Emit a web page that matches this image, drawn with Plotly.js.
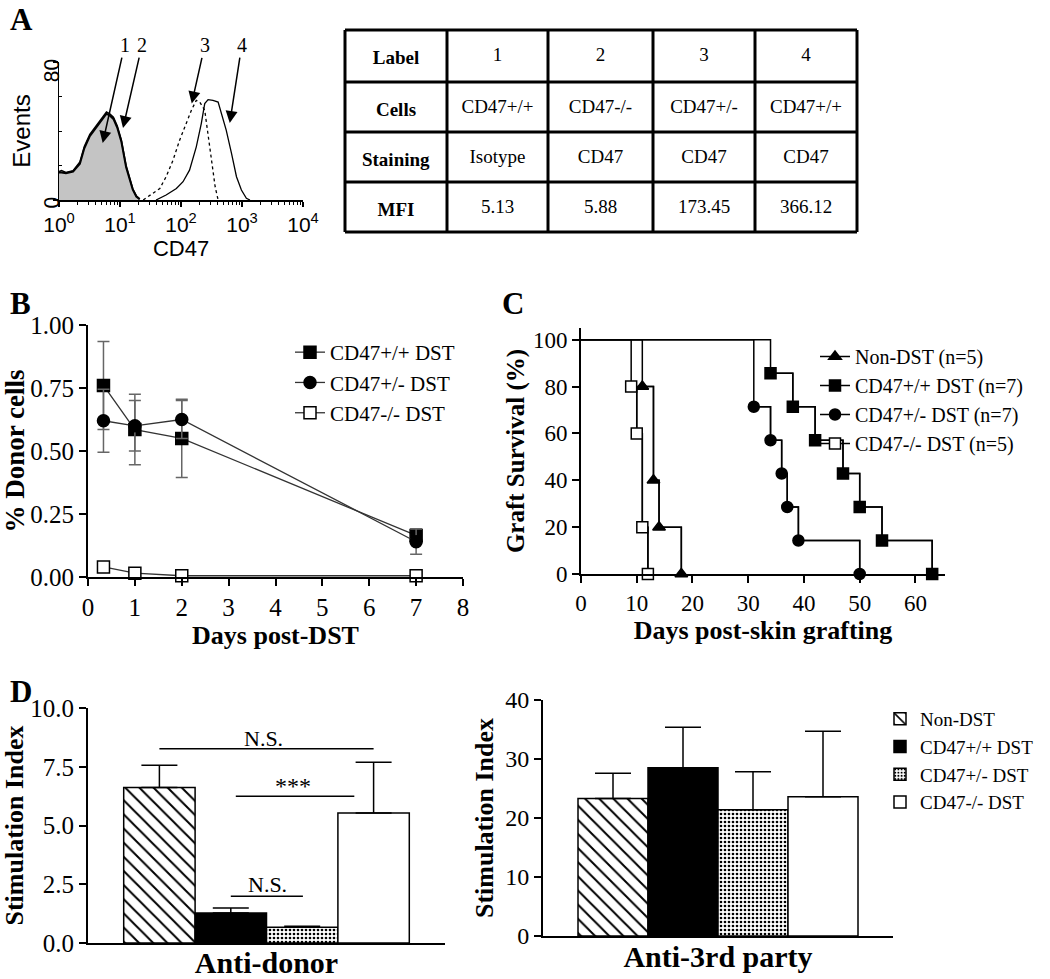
<!DOCTYPE html>
<html>
<head>
<meta charset="utf-8">
<script src="https://cdn.plot.ly/plotly-3.0.1.min.js"></script>
<style>
  html, body { margin: 0; padding: 0; background: white; }
  #plot { width: 1050px; height: 979px; }
</style>
</head>
<body>
<div id="plot"></div>
<script>
// ---- A: flow histogram (CD47 intensity vs events) ----
let histIsoX = [1, 1.1, 1.3, 1.7, 2.2, 2.6, 3.2, 4.1, 5.0, 6.0, 6.8, 7.8, 9.0, 10.5, 12.6, 14.5, 16.2, 18.5, 21];
let histIsoY = [16, 16, 15.5, 16.5, 21, 30, 37, 42, 46, 50, 49, 47, 42, 34, 19, 11, 6, 2, 0.5];
let histKoY = [16.5, 17, 16, 17, 22, 31, 38, 43, 47, 51, 50, 48, 43, 35, 20, 12, 6.5, 2.5, 0.5];
let histHetX = [24, 45, 57, 74, 95, 122, 148, 178, 203, 245, 278, 315, 363, 406];
let histHetY = [0, 6.7, 13.5, 23.1, 34.7, 44.3, 52, 57.8, 56.8, 52, 38.5, 23.1, 7.7, 0];
let histWtX = [39, 57, 84, 108, 138, 178, 215, 245, 278, 334, 406, 457, 551, 673, 812, 978, 1180, 1350];
let histWtY = [0, 2.9, 6.7, 10.6, 17.3, 30.8, 44.3, 55.9, 58.2, 57.8, 56.8, 50.1, 40.5, 27, 13.5, 5.8, 1, 0];
let histLabels = ["1", "2", "3", "4"];
let histArrowX = [5.2, 11.2, 150, 630];
let histArrowY = [33, 41.7, 56, 44.6];

// ---- A: table ----
let tableHeader = ["<b>Label</b>", "1", "2", "3", "4"];
let tableRowNames = ["<b>Cells</b>", "<b>Staining</b>", "<b>MFI</b>"];
let tableCells = ["CD47+/+", "CD47-/-", "CD47+/-", "CD47+/+"];
let tableStaining = ["Isotype", "CD47", "CD47", "CD47"];
let tableMfi = ["5.13", "5.88", "173.45", "366.12"];

// ---- B: donor cells over time ----
let bDays = [0.33, 1, 2, 7];
let bWt = [0.76, 0.585, 0.55, 0.165];
let bWtErr = [0.175, 0.14, 0.155, 0.025];
let bHet = [0.62, 0.60, 0.625, 0.14];
let bHetErr = [0.125, 0.10, 0.075, 0.05];
let bKo = [0.04, 0.015, 0.005, 0.005];

// ---- C: graft survival ----
let cNonX = [0, 11, 13, 14, 18];
let cNonY = [100, 80, 40, 20, 0];
let cWtX = [0, 34, 38, 42, 47, 50, 54, 63];
let cWtY = [100, 85.7, 71.4, 57.1, 42.9, 28.6, 14.3, 0];
let cHetX = [0, 31, 34, 36, 37, 39, 50];
let cHetY = [100, 71.4, 57.1, 42.9, 28.6, 14.3, 0];
let cKoX = [0, 9, 10, 11, 12];
let cKoY = [100, 80, 60, 20, 0];

// ---- D: stimulation index ----
let dGroups = ["Non-DST", "CD47+/+ DST", "CD47+/- DST", "CD47-/- DST"];
let dDonor = [6.62, 1.28, 0.67, 5.53];
let dDonorErr = [0.94, 0.21, 0.04, 2.16];
let d3rd = [23.3, 28.5, 21.4, 23.6];
let d3rdErr = [4.3, 6.9, 6.45, 11.1];
let sigX0 = [1, 2.07, 2.0];
let sigX1 = [4, 3.73, 3.01];
let sigY = [8.27, 6.24, 1.99];
let sigText = ["N.S.", "***", "N.S."];
let sigTextX = [2.46, 2.87, 2.52];
let sigTextY = [8.72, 6.67, 2.48];

const W = 1050, H = 979;
const serif = "Liberation Serif";
const sans = "Liberation Sans";

function dx(left, right) { return [left / W, right / W]; }
function dy(top, bottom) { return [1 - bottom / H, 1 - top / H]; }

function axis(extra) {
    return Object.assign({
        showline: true, linecolor: "black", linewidth: 2,
        ticks: "outside", ticklen: 7, tickwidth: 2, tickcolor: "black",
        showgrid: false, zeroline: false, fixedrange: true,
        tickfont: { family: serif, size: 25, color: "black" }
    }, extra);
}

let traces = [];

// A histograms
traces.push({
    x: histIsoX, y: histIsoY, xaxis: "x", yaxis: "y", type: "scatter", mode: "lines",
    fill: "tozeroy", fillcolor: "#c4c4c4", line: { color: "black", width: 2 }, showlegend: false
});
traces.push({
    x: histIsoX, y: histKoY, xaxis: "x", yaxis: "y", type: "scatter", mode: "lines",
    line: { color: "black", width: 1.5 }, showlegend: false
});
traces.push({
    x: histHetX, y: histHetY, xaxis: "x", yaxis: "y", type: "scatter", mode: "lines",
    line: { color: "black", width: 1.3, dash: "dot" }, showlegend: false
});
traces.push({
    x: histWtX, y: histWtY, xaxis: "x", yaxis: "y", type: "scatter", mode: "lines",
    line: { color: "black", width: 1.3 }, showlegend: false
});

// A table: text from a table trace, grid drawn as shapes so the text sits mid-row
let tableLeft = 345, tableRight = 857;
let tableColW = [102, 101, 105, 102, 102];
let tableRowH = [52, 50, 50, 50];
let tableTop = 30;
let tableValues = [tableRowNames].concat(tableCells.map((c, i) => [c, tableStaining[i], tableMfi[i]]));
let tableFont = { family: serif, size: 19, color: "black" };
traces.push({
    type: "table",
    domain: { x: dx(tableLeft, tableRight), y: dy(tableTop + 9, tableTop + 9 + 202) },
    columnwidth: tableColW,
    header: {
        values: tableHeader, height: tableRowH[0], align: "center",
        line: { color: "rgba(0,0,0,0)", width: 0 }, fill: { color: "rgba(0,0,0,0)" },
        font: tableFont
    },
    cells: {
        values: tableValues, height: tableRowH[1], align: "center",
        line: { color: "rgba(0,0,0,0)", width: 0 }, fill: { color: "rgba(0,0,0,0)" },
        font: tableFont
    }
});

// B lines
function bTrace(name, y, err, symbol, fill) {
    let t = {
        x: bDays, y: y, name: name, xaxis: "x2", yaxis: "y2", type: "scatter",
        mode: "lines+markers", cliponaxis: false, legend: "legend",
        line: { color: "#333", width: 1.3 },
        marker: { symbol: symbol, size: 12, color: fill, line: { color: "black", width: 1.5 } }
    };
    if (err) {
        t.error_y = { type: "data", array: err, color: "#666", thickness: 1.5, width: 6 };
    }
    return t;
}
traces.push(bTrace("CD47+/+ DST", bWt, bWtErr, "square", "black"));
traces.push(bTrace("CD47+/- DST", bHet, bHetErr, "circle", "black"));
traces.push(bTrace("CD47-/- DST", bKo, null, "square", "white"));

// C survival curves: full step line, then markers at each event (with legend)
function cTraces(name, x, y, symbol, fill) {
    let line = { color: "black", width: 1.5, shape: "hv" };
    return [{
        x: x, y: y, xaxis: "x3", yaxis: "y3", type: "scatter", mode: "lines",
        cliponaxis: false, showlegend: false, line: line
    }, {
        x: x.slice(1), y: y.slice(1), name: name, xaxis: "x3", yaxis: "y3", type: "scatter",
        mode: "lines+markers", cliponaxis: false, legend: "legend2", line: line,
        marker: { symbol: symbol, size: 11, color: fill, opacity: 1, line: { color: "black", width: 1.5 } }
    }];
}
traces.push(...cTraces("Non-DST (n=5)", cNonX, cNonY, "triangle-up", "black"));
traces.push(...cTraces("CD47+/+ DST (n=7)", cWtX, cWtY, "square", "black"));
traces.push(...cTraces("CD47+/- DST (n=7)", cHetX, cHetY, "circle", "black"));
traces.push(...cTraces("CD47-/- DST (n=5)", cKoX, cKoY, "square", "white"));

// D bars
let barStyles = [
    { color: "white", pattern: { shape: "\\", fgcolor: "black", bgcolor: "white", size: 10, solidity: 0.2 } },
    { color: "black" },
    { color: "white", pattern: { shape: ".", fgcolor: "black", bgcolor: "white", size: 4, solidity: 0.35 } },
    { color: "white" }
];
dGroups.forEach((g, i) => {
    let st = barStyles[i];
    traces.push({
        x: [i + 1], y: [dDonor[i]], width: 1, name: g, xaxis: "x4", yaxis: "y4", type: "bar",
        showlegend: false,
        marker: Object.assign({ line: { color: "black", width: 1.5 } }, st),
        error_y: { type: "data", symmetric: false, array: [dDonorErr[i]], arrayminus: [0], color: "black", thickness: 1.5, width: 18 }
    });
    traces.push({
        x: [i + 1], y: [d3rd[i]], width: 1, name: g, xaxis: "x5", yaxis: "y5", type: "bar",
        legend: "legend3",
        marker: Object.assign({ line: { color: "black", width: 1.5 } }, st),
        error_y: { type: "data", symmetric: false, array: [d3rdErr[i]], arrayminus: [0], color: "black", thickness: 1.5, width: 18 }
    });
});

// minor ticks for the log axis
let logMinor = [];
for (let d = 1; d < 10000; d *= 10) {
    for (let k = 2; k <= 9; k++) logMinor.push(k * d);
}

let annotations = [];
let panelLetters = [["A", 21, 0], ["B", 20, 284], ["C", 513, 284], ["D", 21, 672]];
panelLetters.forEach(p => annotations.push({
    text: "<b>" + p[0] + "</b>", xref: "paper", yref: "paper", x: p[1] / W, y: 1 - p[2] / H,
    xanchor: "center", yanchor: "top", showarrow: false,
    font: { family: serif, size: 31, color: "black" }
}));

let arrowOffsets = [[22, -98], [19, -83], [13, -58], [12, -78]];
histLabels.forEach((lab, i) => annotations.push({
    text: lab, xref: "x", yref: "y", x: Math.log10(histArrowX[i]), y: histArrowY[i],
    ax: arrowOffsets[i][0], ay: arrowOffsets[i][1],
    showarrow: true, arrowhead: 2, arrowsize: 1.6, arrowwidth: 1.5, arrowcolor: "black",
    font: { family: serif, size: 20, color: "black" }
}));

sigText.forEach((s, i) => annotations.push({
    text: s, xref: "x4", yref: "y4", x: sigTextX[i], y: sigTextY[i],
    showarrow: false, xanchor: "center", yanchor: "middle",
    font: { family: serif, size: s === "***" ? 24 : 22, color: "black" }
}));

let shapes = sigText.map((s, i) => ({
    type: "line", xref: "x4", yref: "y4", x0: sigX0[i], x1: sigX1[i], y0: sigY[i], y1: sigY[i],
    line: { color: "black", width: 1.5 }
}));

// table grid lines
let gridPx = { color: "black", width: 3 };
let tableBottom = tableTop + tableRowH.reduce((a, b) => a + b, 0);
let colEdge = tableLeft;
[0].concat(tableColW).forEach((w, i) => {
    colEdge += w;
    let xv = i === 0 ? tableLeft : colEdge - 0;
    shapes.push({ type: "line", xref: "paper", yref: "paper", x0: xv / W, x1: xv / W,
        y0: 1 - tableTop / H, y1: 1 - tableBottom / H, line: gridPx });
});
let rowEdge = tableTop;
[0].concat(tableRowH).forEach((h, i) => {
    rowEdge += h;
    shapes.push({ type: "line", xref: "paper", yref: "paper", x0: tableLeft / W, x1: tableRight / W,
        y0: 1 - rowEdge / H, y1: 1 - rowEdge / H, line: gridPx });
});

let boldTitle = (t, size, standoff) => ({ text: "<b>" + t + "</b>", font: { family: serif, size: size, color: "black" }, standoff: standoff });

let layout = {
    width: W, height: H,
    margin: { l: 0, r: 0, t: 0, b: 0 },
    paper_bgcolor: "white", plot_bgcolor: "rgba(0,0,0,0)",
    font: { family: serif, color: "black" },
    barmode: "overlay",
    xaxis: axis({
        domain: dx(59, 303), anchor: "y", type: "log", range: [0, 4],
        linewidth: 1.5, ticklen: 5, tickwidth: 1.5,
        tickvals: [1, 10, 100, 1000, 10000],
        ticktext: ["10<sup>0</sup>", "10<sup>1</sup>", "10<sup>2</sup>", "10<sup>3</sup>", "10<sup>4</sup>"],
        tickfont: { family: sans, size: 21, color: "black" },
        minor: { tickvals: logMinor, ticks: "outside", ticklen: 3, tickwidth: 1, tickcolor: "black" },
        title: { text: "CD47", font: { family: sans, size: 22, color: "black" }, standoff: 2 }
    }),
    yaxis: axis({
        domain: dy(62, 200), anchor: "x", range: [0, 80],
        linewidth: 1.5, ticklen: 5, tickwidth: 1.5,
        tickvals: [0, 80], tickangle: -89.9,
        tickfont: { family: sans, size: 21, color: "black" },
        minor: { tickvals: [20, 40, 60], ticks: "inside", ticklen: 3, tickwidth: 1, tickcolor: "black" },
        title: { text: "Events", font: { family: sans, size: 24, color: "black" }, standoff: 2 }
    }),
    xaxis2: axis({
        domain: dx(88, 463), anchor: "y2", range: [0, 8], dtick: 1,
        title: boldTitle("Days post-DST", 26, 6)
    }),
    yaxis2: axis({
        domain: dy(325, 577), anchor: "x2", range: [0, 1], dtick: 0.25, tickformat: ".2f",
        title: boldTitle("% Donor cells", 27, 1)
    }),
    xaxis3: axis({
        domain: dx(581, 945), anchor: "y3", range: [0, 65.3], dtick: 10,
        tickfont: { family: serif, size: 23, color: "black" },
        title: boldTitle("Days post-skin grafting", 26, 5)
    }),
    yaxis3: axis({
        domain: dy(328, 574), anchor: "x3", range: [0, 105], tickvals: [0, 20, 40, 60, 80, 100],
        tickfont: { family: serif, size: 23, color: "black" },
        title: boldTitle("Graft Survival (%)", 25, 1)
    }),
    xaxis4: axis({
        domain: dx(88, 445), anchor: "y4", range: [0, 5], ticks: "", showticklabels: false,
        title: boldTitle("Anti-donor", 30, 9)
    }),
    yaxis4: axis({
        domain: dy(708, 943), anchor: "x4", range: [0, 10], dtick: 2.5, tickformat: ".1f",
        title: boldTitle("Stimulation Index", 26, 2)
    }),
    xaxis5: axis({
        domain: dx(543, 893), anchor: "y5", range: [0, 5], ticks: "", showticklabels: false,
        title: boldTitle("Anti-3rd party", 30, 9)
    }),
    yaxis5: axis({
        domain: dy(700, 936), anchor: "x5", range: [0, 40], dtick: 10,
        tickfont: { family: serif, size: 24, color: "black" },
        title: boldTitle("Stimulation Index", 26, 4)
    }),
    legend: {
        x: 290 / W, y: 1 - 332 / H, xanchor: "left", yanchor: "top",
        bgcolor: "rgba(0,0,0,0)", font: { family: serif, size: 21, color: "black" },
        itemclick: false
    },
    legend2: {
        x: 815 / W, y: 1 - 337 / H, xanchor: "left", yanchor: "top",
        bgcolor: "rgba(0,0,0,0)", font: { family: serif, size: 20, color: "black" },
        itemclick: false
    },
    legend3: {
        x: 880 / W, y: 1 - 700 / H, xanchor: "left", yanchor: "top",
        bgcolor: "rgba(0,0,0,0)", font: { family: serif, size: 19, color: "black" },
        itemclick: false
    },
    annotations: annotations,
    shapes: shapes
};

Plotly.newPlot("plot", traces, layout, { displayModeBar: false, staticPlot: true });
</script>
</body>
</html>
